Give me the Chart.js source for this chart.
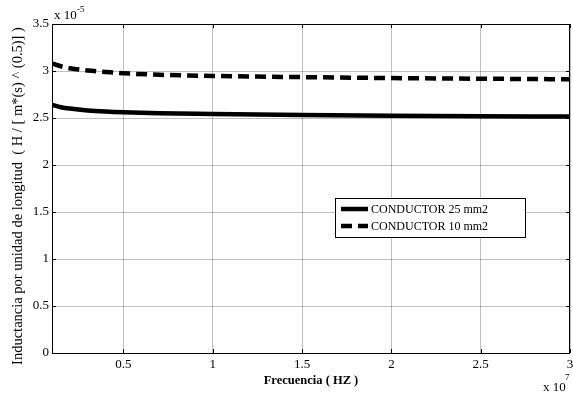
<!DOCTYPE html>
<html>
<head>
<meta charset="utf-8">
<script src="https://cdn.jsdelivr.net/npm/chart.js@4"></script>
<style>
  html, body { margin: 0; padding: 0; background: #fff; }
  #wrap { width: 573px; height: 393px; }
</style>
</head>
<body>
<div id="wrap"><canvas id="c" width="573" height="393"></canvas></div>
<script>
// Frequency samples (x 10^7 Hz)
const frequency = [0.1, 0.15, 0.2, 0.3, 0.4, 0.5, 0.7, 1.0, 1.5, 2.0, 2.5, 3.0];
// Inductance per unit length (x 10^-5 H / [m*(s)^(0.5)])
const conductor25 = [2.64, 2.615, 2.60, 2.58, 2.568, 2.56, 2.55, 2.543, 2.533, 2.525, 2.519, 2.515];
const conductor10 = [3.08, 3.05, 3.03, 3.005, 2.99, 2.976, 2.96, 2.947, 2.935, 2.925, 2.918, 2.912];
const seriesNames = ['CONDUCTOR 25 mm2', 'CONDUCTOR 10 mm2'];
const xTicks = [0.5, 1, 1.5, 2, 2.5, 3];
const yTicks = [0, 0.5, 1, 1.5, 2, 2.5, 3, 3.5];
const xTitle = 'Frecuencia ( HZ )';
const yTitle = 'Inductancia por unidad de longitud  ( H / [ m*(s) ^ (0.5)] )';

const FONT = '"Liberation Serif", "Times New Roman", serif';

const toPoints = (ys) => frequency.map((x, i) => ({ x, y: ys[i] }));

// Box, inward ticks, exponent labels, axis titles and legend
const decorations = {
  id: 'decorations',
  afterDraw(chart) {
    const ctx = chart.ctx;
    const a = chart.chartArea;
    const xs = chart.scales.x, ys = chart.scales.y;
    ctx.save();
    ctx.strokeStyle = '#000';
    ctx.lineWidth = 1;
    // inward tick marks on all four sides
    ctx.beginPath();
    xTicks.forEach(v => {
      const px = Math.round(xs.getPixelForValue(v)) + 0.5;
      ctx.moveTo(px, a.bottom); ctx.lineTo(px, a.bottom - 4);
      ctx.moveTo(px, a.top); ctx.lineTo(px, a.top + 4);
    });
    yTicks.forEach(v => {
      const py = Math.round(ys.getPixelForValue(v)) + 0.5;
      ctx.moveTo(a.left, py); ctx.lineTo(a.left + 4, py);
      ctx.moveTo(a.right, py); ctx.lineTo(a.right - 4, py);
    });
    ctx.stroke();
    // axes box
    ctx.strokeRect(Math.round(a.left) + 0.5, Math.round(a.top) + 0.5,
                   Math.round(a.right - a.left) - 1, Math.round(a.bottom - a.top));

    ctx.fillStyle = '#000';
    // exponent labels
    ctx.font = '13px ' + FONT;
    ctx.textAlign = 'left';
    ctx.textBaseline = 'alphabetic';
    ctx.fillText('x 10', a.left + 2, a.top - 5);
    ctx.font = '9px ' + FONT;
    ctx.fillText('-5', a.left + 25, a.top - 12);
    ctx.font = '13px ' + FONT;
    ctx.fillText('x 10', a.right - 27, a.bottom + 38);
    ctx.font = '9px ' + FONT;
    ctx.fillText('7', a.right - 5, a.bottom + 27);

    // x title
    ctx.font = 'bold 12.5px ' + FONT;
    ctx.textAlign = 'center';
    ctx.textBaseline = 'middle';
    ctx.fillText(xTitle, (a.left + a.right) / 2, a.bottom + 28);
    // y title
    ctx.save();
    ctx.translate(18, 196);
    ctx.rotate(-Math.PI / 2);
    ctx.font = '14.5px ' + FONT;
    ctx.fillText(yTitle, 0, 0);
    ctx.restore();

    // legend
    const lx = 335, ly = 198, lw = 190, lh = 39;
    ctx.fillStyle = '#fff';
    ctx.fillRect(lx, ly, lw, lh);
    ctx.strokeStyle = '#000';
    ctx.lineWidth = 1;
    ctx.strokeRect(lx + 0.5, ly + 0.5, lw, lh);
    chart.data.datasets.forEach((ds, i) => {
      const y = ly + 11 + i * 17;
      ctx.strokeStyle = ds.borderColor;
      ctx.lineWidth = ds.borderWidth;
      ctx.setLineDash(ds.borderDash || []);
      ctx.beginPath();
      ctx.moveTo(lx + 6, y); ctx.lineTo(lx + 33, y);
      ctx.stroke();
      ctx.setLineDash([]);
      ctx.fillStyle = '#000';
      ctx.font = '12px ' + FONT;
      ctx.textAlign = 'left';
      ctx.textBaseline = 'middle';
      ctx.fillText(ds.label, lx + 36, y + 1);
    });
    ctx.restore();
  }
};

new Chart(document.getElementById('c'), {
  type: 'line',
  data: {
    datasets: [
      { label: seriesNames[0], data: toPoints(conductor25), borderColor: '#000',
        borderWidth: 4.5, pointRadius: 0, tension: 0.4, cubicInterpolationMode: 'monotone', fill: false },
      { label: seriesNames[1], data: toPoints(conductor10), borderColor: '#000',
        borderWidth: 4.5, borderDash: [11, 6], pointRadius: 0, tension: 0.4, cubicInterpolationMode: 'monotone', fill: false }
    ]
  },
  options: {
    responsive: false,
    animation: false,
    devicePixelRatio: 1,
    layout: { padding: { left: 0, right: 3, top: 24, bottom: 0 } },
    plugins: { legend: { display: false }, tooltip: { enabled: false } },
    scales: {
      x: {
        type: 'linear',
        min: 0.1, max: 3,
        afterBuildTicks: (s) => { s.ticks = xTicks.map(v => ({ value: v })); },
        afterFit: (s) => { s.height = 40; s.paddingLeft = 0; s.paddingRight = 0; },
        grid: { color: 'rgba(0,0,0,0.25)', lineWidth: 1, drawTicks: false },
        border: { display: false },
        ticks: { color: '#000', font: { family: FONT, size: 13 }, padding: 4, maxRotation: 0,
                 callback: (v) => String(v) }
      },
      y: {
        type: 'linear',
        min: 0, max: 3.5,
        afterBuildTicks: (s) => { s.ticks = yTicks.map(v => ({ value: v })); },
        afterFit: (s) => { s.width = 52; s.paddingTop = 0; s.paddingBottom = 0; },
        grid: { color: 'rgba(0,0,0,0.25)', lineWidth: 1, drawTicks: false },
        border: { display: false },
        ticks: { color: '#000', font: { family: FONT, size: 13 }, padding: 3,
                 callback: (v) => String(v) }
      }
    }
  },
  plugins: [decorations]
});
</script>
</body>
</html>
